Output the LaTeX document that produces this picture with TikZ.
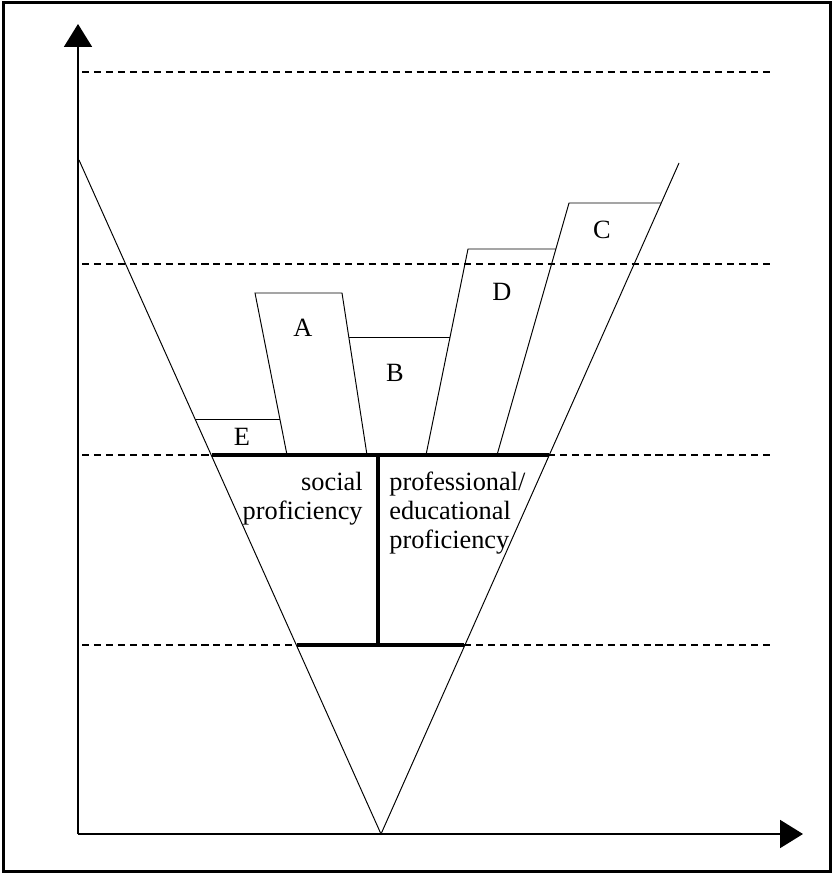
\documentclass[tikz,border=0pt]{standalone}
\usepackage{fontspec}
\setmainfont{Liberation Serif}
\usepackage{tikz}
\usetikzlibrary{arrows.meta,positioning}
\definecolor{ink}{HTML}{000000}
\tikzset{
  frame/.style={draw=ink, line width=1.7pt},
  axis/.style={draw=ink, line width=1.1pt, -{Triangle[width=0.56cm, length=0.46cm]}},
  thin/.style={draw=ink, line width=0.55pt, line join=miter},
  level/.style={draw=ink, line width=0.7pt, dash pattern=on 4pt off 2.8pt},
  bold/.style={draw=ink, line width=2.3pt},
  lab/.style={text=ink, inner sep=0pt, font=\fontsize{15}{16.5}\selectfont},
}
\begin{document}
\begin{tikzpicture}[x=0.02cm, y=-0.02cm]
\useasboundingbox (0,0) rectangle (833,874);
\draw[frame] (3.5,3) rectangle (830,871);
% levels
\draw[level] (82,72) -- (770,72);
\draw[level] (82,264) -- (770,264);
\draw[level] (82,455) -- (770,455);
\draw[level] (82,645) -- (770,645);
% axes
\coordinate (O) at (78,834);
\coordinate (ytip) at (78,24);
\coordinate (xtip) at (803,834);
\draw[axis] (O) -- (ytip);
\draw[axis] (O) -- (xtip);
% funnel
\coordinate (vl) at (79,160);
\coordinate (vb) at (381,834);
\coordinate (vr) at (679,163);
\draw[thin] (vl) -- (vb) -- (vr);
% bars
\draw[thin] (195,419) -- (280,419);
\draw[thin] (287,455) -- (255,293) -- (342,293) -- (367,455);
\draw[thin] (349,337) -- (450,337);
\draw[thin] (426,455) -- (468,249) -- (556,249);
\draw[thin] (497,455) -- (569,203) -- (661,203);
% split
\draw[bold] (212,455) -- (549,455);
\draw[bold] (378,455) -- (378,645);
\draw[bold] (297,645) -- (464,645);
\node[lab] (E) at (242,437) {E};
\node[lab] (A) at (303,328) {A};
\node[lab] (B) at (395,373) {B};
\node[lab] (D) at (502,292) {D};
\node[lab] (C) at (602,230) {C};
\node[lab, anchor=base east, align=right] (soc) at (363,519) {social\\proficiency};
\node[lab, anchor=base west, align=left] (prof) at (389,548) {professional/\\educational\\proficiency};
\end{tikzpicture}
\end{document}
